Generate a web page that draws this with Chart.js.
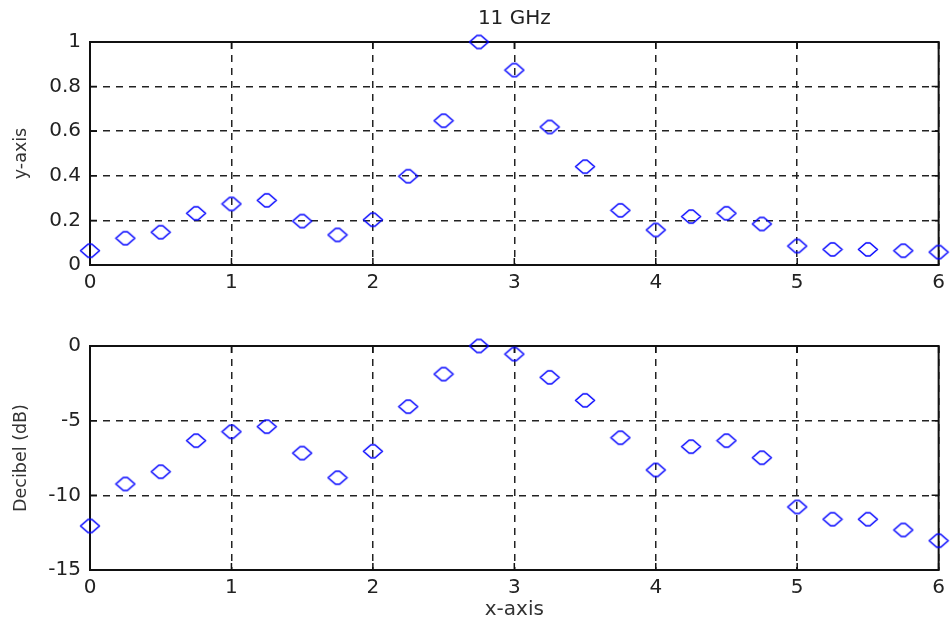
<!DOCTYPE html>
<html>
<head>
<meta charset="utf-8">
<script src="https://cdn.jsdelivr.net/npm/chart.js@4"></script>
<style>
  html, body { margin: 0; padding: 0; background: #fff; }
  #wrap { position: relative; width: 951px; height: 625px; }
  canvas { position: absolute; left: 0; }
</style>
</head>
<body>
<div id="wrap">
  <canvas id="topChart" width="951" height="300" style="top:0"></canvas>
  <canvas id="botChart" width="951" height="325" style="top:300px"></canvas>
</div>
<script>
// data
const xValues = [0, 0.25, 0.5, 0.75, 1, 1.25, 1.5, 1.75, 2, 2.25, 2.5, 2.75, 3,
                 3.25, 3.5, 3.75, 4, 4.25, 4.5, 4.75, 5, 5.25, 5.5, 5.75, 6];
const linearValues = [0.064, 0.12, 0.147, 0.232, 0.274, 0.29, 0.197, 0.135, 0.203, 0.398, 0.647, 1.0, 0.874,
                      0.619, 0.441, 0.245, 0.157, 0.217, 0.232, 0.184, 0.085, 0.07, 0.07, 0.064, 0.058];
const decibelValues = [-12.05, -9.24, -8.42, -6.34, -5.74, -5.40, -7.17, -8.82, -7.05, -4.06, -1.88, 0, -0.54,
                       -2.10, -3.64, -6.14, -8.30, -6.74, -6.34, -7.48, -10.78, -11.6, -11.6, -12.32, -13.04];
const xTickValues = [0, 1, 2, 3, 4, 5, 6];
const linearTickValues = [0, 0.2, 0.4, 0.6, 0.8, 1];
const decibelTickValues = [-15, -10, -5, 0];

const FONT = 'DejaVu Sans, Verdana, sans-serif';

// hollow flattened diamond, like the matlab 'd' marker here
function diamondMarker() {
    const c = document.createElement('canvas');
    c.width = 22; c.height = 17;
    const g = c.getContext('2d');
    g.strokeStyle = '#0000ff';
    g.lineWidth = 1.6;
    g.lineJoin = 'round';
    g.beginPath();
    g.moveTo(1.5, 8.5);
    g.lineTo(9, 2);
    g.lineTo(13, 2);
    g.lineTo(20.5, 8.5);
    g.lineTo(13, 15);
    g.lineTo(9, 15);
    g.closePath();
    g.stroke();
    return c;
}
const marker = diamondMarker();

// solid box round the axes plus small inward ticks
const framePlugin = {
    id: 'frame',
    beforeDatasetsDraw(chart) {
        const { ctx, chartArea: a, scales } = chart;
        ctx.save();
        ctx.strokeStyle = '#111';
        ctx.lineWidth = 2;
        ctx.strokeRect(a.left, a.top, a.right - a.left, a.bottom - a.top);
        ctx.lineWidth = 1.5;
        ctx.beginPath();
        scales.x.ticks.forEach(t => {
            const px = scales.x.getPixelForValue(t.value);
            ctx.moveTo(px, a.bottom); ctx.lineTo(px, a.bottom - 7);
            ctx.moveTo(px, a.top); ctx.lineTo(px, a.top + 7);
        });
        scales.y.ticks.forEach(t => {
            const py = scales.y.getPixelForValue(t.value);
            ctx.moveTo(a.left, py); ctx.lineTo(a.left + 7, py);
            ctx.moveTo(a.right, py); ctx.lineTo(a.right - 7, py);
        });
        ctx.stroke();
        ctx.restore();
    }
};

function makeChart(canvasId, yValues, yTicks, yTitle, opts) {
    return new Chart(document.getElementById(canvasId), {
        type: 'scatter',
        data: {
            datasets: [{
                data: xValues.map((x, i) => ({ x: x, y: yValues[i] })),
                pointStyle: marker,
                pointRadius: 8,
                clip: false
            }]
        },
        options: {
            responsive: false,
            animation: false,
            layout: { padding: { top: opts.padTop, right: 10, left: 0, bottom: 0 } },
            plugins: {
                legend: { display: false },
                tooltip: { enabled: false },
                title: opts.title ? {
                    display: true,
                    text: opts.title,
                    fullSize: false,
                    color: '#222',
                    font: { family: FONT, size: 20, weight: 'normal', lineHeight: 1.2 },
                    padding: { top: 7, bottom: 11 }
                } : { display: false }
            },
            scales: {
                x: {
                    type: 'linear',
                    min: 0, max: 6,
                    afterBuildTicks: s => { s.ticks = xTickValues.map(v => ({ value: v })); },
                    afterFit: s => { s.height = opts.xHeight; },
                    ticks: { color: '#222', font: { family: FONT, size: 20 }, padding: 6, maxRotation: 0 },
                    grid: { color: '#222', lineWidth: 1.5, drawTicks: false },
                    border: { display: false, dash: [7, 6] },
                    title: opts.xTitle ? {
                        display: true, text: opts.xTitle, color: '#333',
                        font: { family: FONT, size: 20 }, padding: { top: 0, bottom: 3 }
                    } : { display: false }
                },
                y: {
                    type: 'linear',
                    min: yTicks[0], max: yTicks[yTicks.length - 1],
                    afterBuildTicks: s => { s.ticks = yTicks.map(v => ({ value: v })); },
                    afterFit: s => { s.width = 90; },
                    ticks: { color: '#222', font: { family: FONT, size: 20 }, padding: 9,
                             callback: v => String(+v.toFixed(2)) },
                    grid: { color: '#222', lineWidth: 1.5, drawTicks: false },
                    border: { display: false, dash: [7, 6] },
                    title: {
                        display: true, text: yTitle, color: '#333',
                        font: { family: FONT, size: 17.5 }, padding: { top: 11, bottom: 0 }
                    }
                }
            }
        },
        plugins: [framePlugin]
    });
}

makeChart('topChart', linearValues, linearTickValues, 'y-axis',
    { title: '11 GHz', padTop: 0, xHeight: 35 });
makeChart('botChart', decibelValues, decibelTickValues, 'Decibel (dB)',
    { padTop: 46, xHeight: 55, xTitle: 'x-axis' });
</script>
</body>
</html>
